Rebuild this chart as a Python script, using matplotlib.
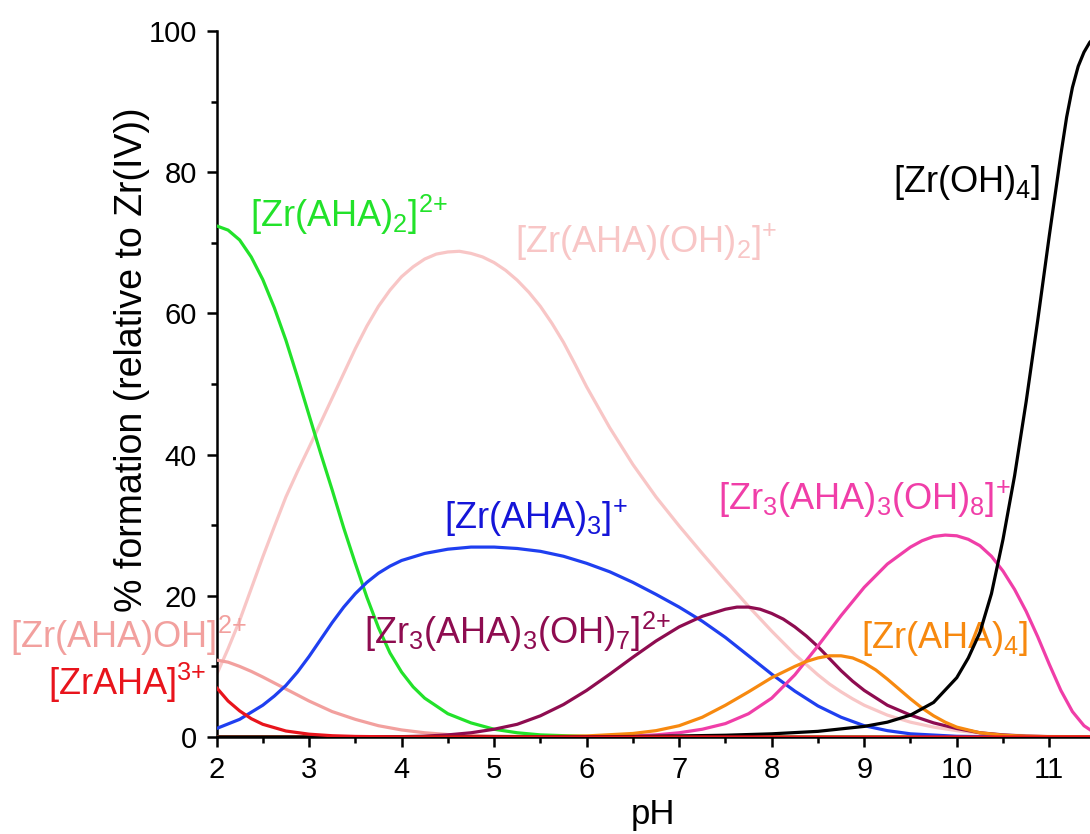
import matplotlib
matplotlib.use("Agg")
import matplotlib.pyplot as plt
from matplotlib.ticker import MultipleLocator

plt.rcParams['font.family'] = ['Liberation Sans', 'DejaVu Sans']
plt.rcParams['mathtext.fontset'] = 'custom'
plt.rcParams['mathtext.rm'] = 'Liberation Sans'
plt.rcParams['mathtext.it'] = 'Liberation Sans:italic'

# ---- data (pH, % formation relative to Zr(IV)) ----
pH_zraha = [2.0, 2.125, 2.25, 2.375, 2.5, 2.75, 3.0, 3.25, 3.5, 4.0, 11.5]
zr_aha = [7.0, 5.1, 3.7, 2.6, 1.8, 0.85, 0.4, 0.18, 0.08, 0.01, 0.0]

pH_zrahaoh = [2.0, 2.125, 2.25, 2.375, 2.5, 2.75, 3.0, 3.25, 3.5, 3.75, 4.0, 4.25,
              4.5, 5.0, 5.5, 6.0, 11.5]
zr_aha_oh = [10.9, 10.6, 10.0, 9.3, 8.5, 6.8, 5.1, 3.6, 2.5, 1.6, 1.0, 0.6,
             0.35, 0.12, 0.04, 0.01, 0.0]

pH_aha2 = [2.0, 2.125, 2.25, 2.375, 2.5, 2.625, 2.75, 2.875, 3.0, 3.125, 3.25, 3.375,
           3.5, 3.625, 3.75, 3.875, 4.0, 4.125, 4.25, 4.5, 4.75, 5.0, 5.25, 5.5,
           6.0, 6.5, 7.0, 11.5]
zr_aha2 = [72.4, 71.8, 70.4, 68.0, 64.8, 60.8, 56.2, 51.0, 45.6, 40.2, 35.0, 29.6,
           24.6, 19.8, 15.5, 11.9, 9.2, 7.1, 5.5, 3.3, 2.0, 1.1, 0.6, 0.3,
           0.08, 0.02, 0.0, 0.0]

pH_aha_oh2 = [2.0, 2.125, 2.25, 2.375, 2.5, 2.625, 2.75, 2.875, 3.0, 3.25, 3.5, 3.625,
              3.75, 3.875, 4.0, 4.125, 4.25, 4.375, 4.5, 4.625, 4.75, 4.875, 5.0,
              5.125, 5.25, 5.375, 5.5, 5.625, 5.75, 5.875, 6.0, 6.125, 6.25, 6.5,
              6.75, 7.0, 7.25, 7.5, 7.75, 8.0, 8.25, 8.5, 8.625, 8.75, 8.875, 9.0,
              9.25, 9.5, 9.75, 10.0, 10.25, 10.5, 11.0, 11.5]
zr_aha_oh2 = [8.8, 12.5, 16.5, 21.0, 25.5, 29.8, 34.0, 37.6, 41.0, 48.0, 55.0, 58.2,
              61.0, 63.3, 65.2, 66.6, 67.7, 68.4, 68.7, 68.8, 68.5, 68.0, 67.2,
              66.1, 64.7, 63.0, 61.0, 58.6, 55.9, 52.8, 49.6, 46.7, 43.8, 38.6,
              34.0, 29.9, 26.0, 22.2, 18.5, 15.0, 11.7, 8.8, 7.5, 6.4, 5.4, 4.5,
              3.1, 2.1, 1.4, 0.9, 0.55, 0.3, 0.08, 0.02]

pH_aha3 = [2.0, 2.25, 2.5, 2.625, 2.75, 2.875, 3.0, 3.125, 3.25, 3.375, 3.5, 3.625,
           3.75, 3.875, 4.0, 4.25, 4.5, 4.75, 5.0, 5.25, 5.5, 5.75, 6.0, 6.25, 6.5,
           6.75, 7.0, 7.25, 7.5, 7.75, 8.0, 8.25, 8.5, 8.75, 9.0, 9.25, 9.5, 10.0,
           10.5, 11.5]
zr_aha3 = [1.2, 2.5, 4.5, 5.8, 7.3, 9.2, 11.4, 13.8, 16.2, 18.4, 20.3, 21.9,
           23.2, 24.2, 25.0, 26.0, 26.6, 26.9, 26.9, 26.7, 26.3, 25.6, 24.6, 23.4, 21.9,
           20.2, 18.4, 16.4, 14.1, 11.5, 8.9, 6.5, 4.4, 2.8, 1.6, 0.9, 0.45, 0.1,
           0.02, 0.0]

pH_oh7 = [2.0, 3.5, 4.0, 4.25, 4.5, 4.75, 5.0, 5.25, 5.5, 5.75, 6.0, 6.25, 6.5, 6.75,
          7.0, 7.25, 7.5, 7.625, 7.75, 7.875, 8.0, 8.125, 8.25, 8.375, 8.5, 8.625,
          8.75, 8.875, 9.0, 9.25, 9.5, 9.75, 10.0, 10.25, 10.5, 10.75, 11.0, 11.5]
zr3_oh7 = [0.0, 0.01, 0.05, 0.12, 0.3, 0.6, 1.1, 1.8, 3.0, 4.6, 6.6, 8.9, 11.3, 13.6,
           15.6, 17.1, 18.1, 18.4, 18.4, 18.1, 17.5, 16.7, 15.6, 14.3, 12.8, 11.1,
           9.4, 7.9, 6.6, 4.5, 3.1, 2.0, 1.2, 0.6, 0.3, 0.12, 0.05, 0.0]

pH_aha4 = [2.0, 5.0, 5.5, 6.0, 6.5, 6.75, 7.0, 7.25, 7.5, 7.75, 8.0, 8.25, 8.375,
           8.5, 8.625, 8.75, 8.875, 9.0, 9.125, 9.25, 9.375, 9.5, 9.625, 9.75,
           9.875, 10.0, 10.25, 10.5, 10.75, 11.0, 11.5]
zr_aha4 = [0.0, 0.01, 0.05, 0.15, 0.5, 0.9, 1.6, 2.8, 4.5, 6.4, 8.4, 10.0, 10.7,
           11.2, 11.5, 11.5, 11.2, 10.5, 9.5, 8.2, 6.8, 5.4, 4.1, 3.0,
           2.1, 1.4, 0.6, 0.25, 0.1, 0.04, 0.0]

pH_oh8 = [2.0, 5.5, 6.0, 6.5, 6.75, 7.0, 7.25, 7.5, 7.75, 8.0, 8.25, 8.5, 8.75,
          9.0, 9.25, 9.5, 9.625, 9.75, 9.875, 10.0, 10.125, 10.25, 10.375, 10.5,
          10.625, 10.75, 10.875, 11.0, 11.125, 11.25, 11.375, 11.5]
zr3_oh8 = [0.0, 0.01, 0.05, 0.15, 0.3, 0.6, 1.1, 1.9, 3.3, 5.5, 8.8, 12.9, 17.2,
           21.2, 24.5, 26.9, 27.8, 28.4, 28.6, 28.5, 28.0, 27.1, 25.6, 23.5,
           20.9, 17.8, 14.2, 10.3, 6.6, 3.6, 1.6, 0.5]

pH_oh4 = [2.0, 3.0, 4.0, 5.0, 6.0, 6.5, 7.0, 7.5, 8.0, 8.5, 9.0, 9.25, 9.5, 9.75,
          10.0, 10.125, 10.25, 10.375, 10.5, 10.625, 10.75, 10.875, 11.0,
          11.125, 11.1875, 11.25, 11.3125, 11.375, 11.4375, 11.5]
zr_oh4 = [0.0, 0.0, 0.0, 0.01, 0.03, 0.07, 0.15, 0.25, 0.45, 0.8, 1.5, 2.1, 3.1, 4.9,
          8.4, 11.2, 14.8, 20.3, 28.0, 37.0, 47.5, 59.0, 71.0,
          82.5, 87.8, 92.0, 95.0, 97.0, 98.4, 99.2]

c_green = '#22e22a'
c_lpink = '#f8c6c6'
c_salmon = '#f2a09e'
c_red = '#e8141c'
c_blue = '#1f3ff0'
c_maroon = '#8e0c50'
c_magenta = '#f03ea8'
c_orange = '#f7890f'
c_black = '#000000'

fig = plt.figure(figsize=(10.9, 8.34), dpi=100)
ax = fig.add_axes([216.5 / 1090, 1 - 737 / 834, 1 - 216.5 / 1090, (737 - 31) / 834])

lw = 2.3
kw = dict(lw=lw, solid_joinstyle='round', solid_capstyle='round')
ax.plot(pH_aha_oh2, zr_aha_oh2, color=c_lpink, zorder=2, **kw)
ax.plot(pH_zrahaoh, zr_aha_oh, color=c_salmon, zorder=3, **kw)
ax.plot(pH_aha2, zr_aha2, color=c_green, zorder=3, **kw)
ax.plot(pH_aha3, zr_aha3, color=c_blue, zorder=3, **kw)
ax.plot(pH_oh7, zr3_oh7, color=c_maroon, zorder=3, **kw)
ax.plot(pH_oh8, zr3_oh8, color=c_magenta, zorder=3, **kw)
ax.plot(pH_aha4, zr_aha4, color=c_orange, zorder=4, **kw)
ax.plot(pH_oh4, zr_oh4, color=c_black, zorder=4, **kw)
ax.plot(pH_zraha, zr_aha, color=c_red, zorder=5, **kw)

ax.set_xlim(2, 11.44)
ax.set_ylim(0, 100)
for s in ['top', 'right']:
    ax.spines[s].set_visible(False)
for s in ['left', 'bottom']:
    ax.spines[s].set_linewidth(1.8)

ax.xaxis.set_major_locator(MultipleLocator(1))
ax.xaxis.set_minor_locator(MultipleLocator(0.5))
ax.yaxis.set_major_locator(MultipleLocator(20))
ax.yaxis.set_minor_locator(MultipleLocator(10))
ax.tick_params(which='major', direction='out', length=7, width=1.8, labelsize=21, pad=7)
ax.tick_params(which='minor', direction='out', length=4.5, width=1.8)

ax.set_xlabel('pH', fontsize=25, labelpad=10)
ax.set_ylabel('% formation (relative to Zr(IV))', fontsize=27)
ax.yaxis.set_label_coords(-0.076, 0.534)

fs = 26
def lab(x, y, s, c):
    ax.text(x, y, s, color=c, fontsize=fs, ha='left', va='center', clip_on=False)

lab(2.36, 74.0, r'[Zr(AHA)$_\mathregular{2}$]$^\mathregular{2{+}}$', c_green)
lab(5.23, 70.0, r'[Zr(AHA)(OH)$_\mathregular{2}$]$^\mathregular{{+}}$', c_lpink)
lab(9.31, 78.5, r'[Zr(OH)$_\mathregular{4}$]', c_black)
lab(4.46, 31.0, r'[Zr(AHA)$_\mathregular{3}$]$^\mathregular{{+}}$', '#1515d8')
lab(7.42, 33.6, r'[Zr$_\mathregular{3}$(AHA)$_\mathregular{3}$(OH)$_\mathregular{8}$]$^\mathregular{{+}}$', c_magenta)
lab(3.59, 14.9, r'[Zr$_\mathregular{3}$(AHA)$_\mathregular{3}$(OH)$_\mathregular{7}$]$^\mathregular{2{+}}$', c_maroon)
lab(-0.23, 14.3, r'[Zr(AHA)OH]$^\mathregular{2{+}}$', c_salmon)
lab(0.18, 7.6, r'[ZrAHA]$^\mathregular{3{+}}$', c_red)
lab(8.96, 14.0, r'[Zr(AHA)$_\mathregular{4}$]', c_orange)

fig.savefig('out.png', dpi=100)
